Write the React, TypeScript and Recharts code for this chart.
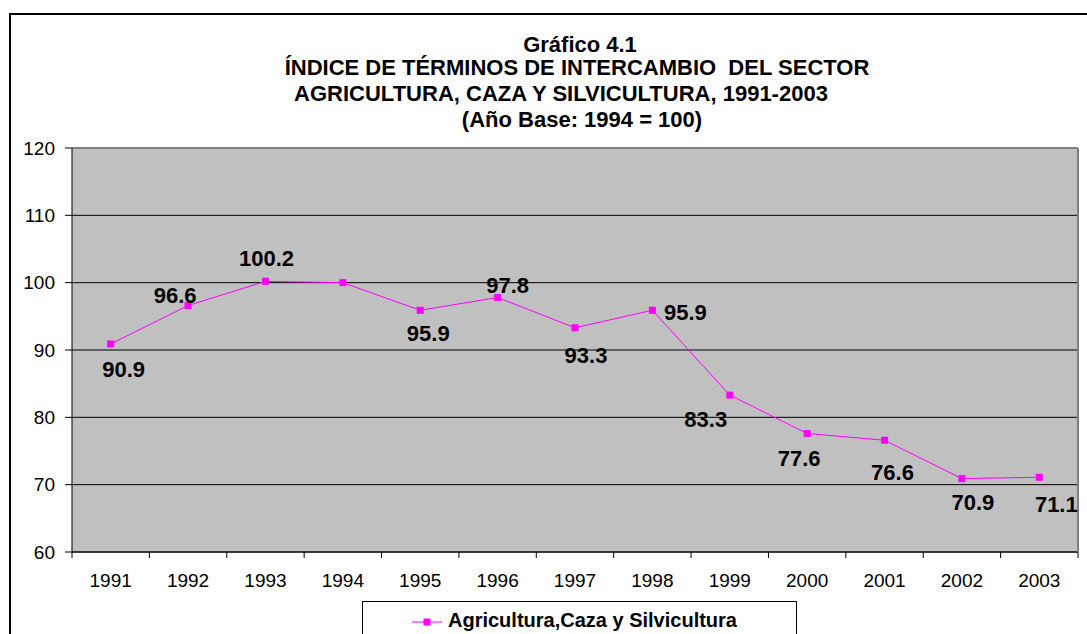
import React from 'react';
import { LineChart, Line, XAxis, YAxis, CartesianGrid, LabelList, Legend } from 'recharts';

const years = ['1991', '1992', '1993', '1994', '1995', '1996', '1997', '1998', '1999', '2000', '2001', '2002', '2003'];
const values = [90.9, 96.6, 100.2, 100.0, 95.9, 97.8, 93.3, 95.9, 83.3, 77.6, 76.6, 70.9, 71.1];
const yTicks = [60, 70, 80, 90, 100, 110, 120];
const seriesName = 'Agricultura,Caza y Silvicultura';
const titleLines = [
  'Gráfico 4.1',
  'ÍNDICE DE TÉRMINOS DE INTERCAMBIO  DEL SECTOR',
  'AGRICULTURA, CAZA Y SILVICULTURA, 1991-2003',
  '(Año Base: 1994 = 100)',
];

// layout of the title lines: [centerX, baselineY]
const titleLayout: Array<[number, number]> = [
  [580, 52],
  [577, 75],
  [561, 101],
  [582, 127],
];

// data label placement relative to the point (dx, dy); null = no label shown
const labelOffsets: Array<[number, number] | null> = [
  [13, 26],
  [-13, -10],
  [1, -23],
  null,
  [8, 23],
  [10, -12],
  [11, 28],
  [33, 2],
  [-24, 24],
  [-8, 25],
  [8, 32],
  [11, 24],
  [17, 27],
];

const data = years.map((year, i) => ({ year, value: values[i] }));

const FONT = '"Liberation Sans", Arial, sans-serif';
const MAGENTA = '#FF00FF';

const SquareDot = (props: any) => {
  const { cx, cy } = props;
  if (cx == null || cy == null) return null;
  return <rect x={cx - 3.5} y={cy - 3.5} width={7} height={7} fill={MAGENTA} />;
};

const DataLabel = (props: any) => {
  const { index, value } = props;
  const off = labelOffsets[index];
  if (!off) return null;
  const x = props.x ?? props.viewBox?.x;
  const y = props.y ?? props.viewBox?.y;
  if (x == null || y == null) return null;
  return (
    <text
      x={x + off[0]}
      y={y + off[1]}
      textAnchor="middle"
      dominantBaseline="central"
      fontSize={22}
      fontWeight="bold"
      fill="#000"
      fontFamily={FONT}
    >
      {Number(value).toFixed(1)}
    </text>
  );
};

const XTick = (props: any) => {
  const { x, y, payload } = props;
  const half = payload?.offset ?? 0;
  const isLast = payload?.value === years[years.length - 1];
  return (
    <g>
      <line x1={x - half} x2={x - half} y1={y} y2={y + 6} stroke="#000" />
      {isLast && <line x1={x + half} x2={x + half} y1={y} y2={y + 6} stroke="#000" />}
      <text x={x} y={y + 35} textAnchor="middle" fontSize={19} fill="#000" fontFamily={FONT}>
        {payload.value}
      </text>
    </g>
  );
};

const LegendBox = () => (
  <div
    style={{
      width: 435,
      height: 40,
      border: '1px solid #000',
      background: '#fff',
      boxSizing: 'border-box',
      position: 'relative',
    }}
  >
    <svg width={435} height={40} style={{ position: 'absolute', left: -1, top: -1 }}>
      <line x1={50} x2={80} y1={21} y2={21} stroke={MAGENTA} strokeWidth={1} />
      <rect x={61.5} y={17.5} width={7} height={7} fill={MAGENTA} />
      <text x={86} y={26} fontSize={20} fontWeight="bold" fill="#000" fontFamily={FONT}>
        {seriesName}
      </text>
    </svg>
  </div>
);

export default function App() {
  return (
    <div
      style={{
        position: 'absolute',
        left: 0,
        top: 0,
        width: 1087,
        height: 634,
        overflow: 'hidden',
        background: '#fff',
        fontFamily: FONT,
      }}
    >
      <div
        style={{
          position: 'absolute',
          left: 9,
          top: 13,
          width: 1087,
          height: 634,
          borderLeft: '2px solid #000',
          borderTop: '2px solid #000',
        }}
      />
      <div style={{ position: 'absolute', left: 0, top: 0 }}>
        <LineChart
          width={1087}
          height={634}
          data={data}
          margin={{ top: 147, right: 8, bottom: 42, left: 0 }}
        >
          <CartesianGrid vertical={false} stroke="#000" fill="#C0C0C0" strokeWidth={1} />
          <XAxis
            dataKey="year"
            type="category"
            scale="band"
            interval={0}
            height={40}
            tickSize={0}
            tickMargin={0}
            tickLine={false}
            axisLine={{ stroke: '#000', strokeWidth: 1 }}
            tick={<XTick />}
          />
          <XAxis
            xAxisId="top"
            orientation="top"
            dataKey="year"
            type="category"
            scale="band"
            height={1}
            tick={false}
            tickLine={false}
            axisLine={{ stroke: '#808080', strokeWidth: 2 }}
          />
          <YAxis
            domain={[60, 120]}
            ticks={yTicks}
            interval={0}
            width={72}
            tickSize={7}
            tickMargin={10}
            allowDataOverflow
            tick={{ fontSize: 19, fill: '#000', fontFamily: FONT }}
            tickLine={{ stroke: '#000' }}
            axisLine={{ stroke: '#000' }}
          />
          <YAxis
            yAxisId="right"
            orientation="right"
            domain={[60, 120]}
            width={1}
            tick={false}
            tickLine={false}
            axisLine={{ stroke: '#808080', strokeWidth: 2 }}
          />
          <Legend
            layout="horizontal"
            verticalAlign="middle"
            align="center"
            content={<LegendBox />}
            wrapperStyle={{ position: 'absolute', left: 362, top: 601, width: 435, height: 40 }}
          />
          <Line
            type="linear"
            dataKey="value"
            name={seriesName}
            stroke={MAGENTA}
            strokeWidth={1}
            dot={<SquareDot />}
            activeDot={false}
            isAnimationActive={false}
          >
            <LabelList dataKey="value" content={<DataLabel />} />
          </Line>
        </LineChart>
      </div>
      <svg
        width={1087}
        height={150}
        style={{ position: 'absolute', left: 0, top: 0, pointerEvents: 'none' }}
      >
        {titleLines.map((line, i) => (
          <text
            key={i}
            x={titleLayout[i][0]}
            y={titleLayout[i][1]}
            textAnchor="middle"
            fontSize={22}
            fontWeight="bold"
            fill="#000"
            fontFamily={FONT}
            style={{ whiteSpace: 'pre' }}
          >
            {line}
          </text>
        ))}
      </svg>
    </div>
  );
}
